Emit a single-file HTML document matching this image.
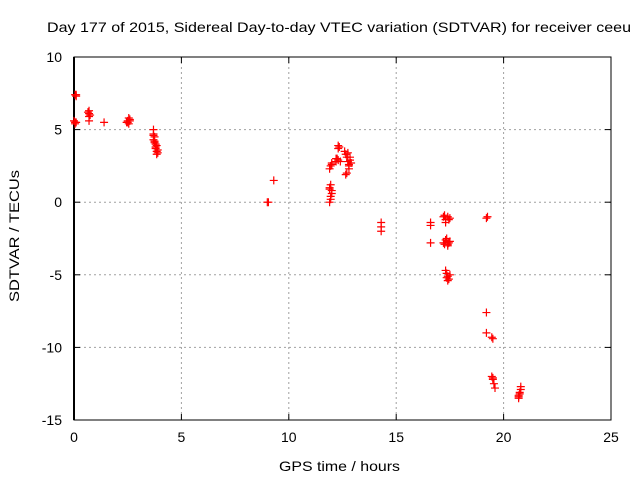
<!DOCTYPE html>
<html><head><meta charset="utf-8"><style>
body{margin:0;background:#fff}
svg text{font-family:"Liberation Sans",sans-serif;font-size:14px;fill:#000}
</style></head><body>
<svg id="chart" width="640" height="480">
<text x="47" y="32" textLength="584" lengthAdjust="spacingAndGlyphs">Day 177 of 2015, Sidereal Day-to-day VTEC variation (SDTVAR) for receiver ceeu</text>
<g id="grid"></g>
<g id="axes"></g>
<g id="pts"></g>
<text x="279" y="471" textLength="121" lengthAdjust="spacingAndGlyphs">GPS time / hours</text>
<text transform="translate(19,302) rotate(-90)" textLength="132" lengthAdjust="spacingAndGlyphs">SDTVAR / TECUs</text>
</svg>
<script>
const xTicks=[0,5,10,15,20,25];
const yTicks=[10,5,0,-5,-10,-15];
const hours=[0.05,0.1,0.05,0.1,0.05,0.0,0.1,0.7,0.7,0.7,0.7,0.65,0.75,1.4,2.5,2.55,2.6,2.5,2.6,2.45,2.55,3.7,3.7,3.75,3.7,3.75,3.8,3.8,3.85,3.9,3.85,3.9,3.75,3.8,3.7,3.85,9.0,9.05,9.3,11.9,11.95,12.0,11.9,11.95,12.0,11.9,11.95,12.0,11.95,11.9,12.0,12.2,12.25,12.3,12.35,12.3,12.4,12.2,12.3,12.6,12.65,12.7,12.75,12.8,12.85,12.8,12.7,12.65,12.75,12.85,12.8,12.9,14.3,14.3,14.3,16.6,16.6,16.6,17.2,17.3,17.4,17.5,17.3,17.25,17.45,17.2,17.3,17.4,17.5,17.4,17.35,17.25,17.45,17.3,17.35,17.4,17.45,17.5,17.4,17.35,19.2,19.25,19.2,19.2,19.45,19.5,19.45,19.5,19.55,19.6,19.5,20.7,20.75,20.8,20.7,20.8,20.75,20.7];
const values=[7.4,7.3,5.5,5.5,5.4,5.6,7.4,6.3,6.1,5.9,5.6,6.2,6.0,5.5,5.6,5.4,5.7,5.5,5.6,5.5,5.8,5.0,4.7,4.5,4.3,4.1,4.0,3.8,3.9,3.6,3.5,3.4,4.2,3.7,4.6,3.3,0.0,0.0,1.5,2.3,2.5,2.7,0.0,0.4,0.8,1.0,1.2,0.6,0.2,0.9,2.6,2.8,3.0,2.9,3.8,3.9,2.8,3.0,3.7,3.5,3.3,3.1,2.8,2.6,2.9,2.3,2.0,1.9,3.4,3.1,2.5,2.7,-1.4,-1.7,-2.0,-1.4,-1.6,-2.8,-1.0,-1.2,-1.0,-1.1,-1.4,-0.9,-1.2,-2.8,-2.6,-2.9,-2.7,-3.0,-2.5,-2.9,-2.8,-4.7,-4.9,-5.1,-5.3,-5.0,-5.4,-5.2,-1.1,-1.0,-7.6,-9.0,-9.3,-9.4,-12.0,-12.2,-12.5,-12.8,-12.1,-13.3,-13.1,-12.9,-13.5,-12.7,-13.2,-13.4];
const X0=74,X1=611,Y0=57,Y1=420;
const xs=v=>X0+(v-0)/25*(X1-X0);
const ys=v=>Y0+(10-v)/25*(Y1-Y0);
const NS="http://www.w3.org/2000/svg";
function mk(t,a,p){const e=document.createElementNS(NS,t);for(const k in a)e.setAttribute(k,a[k]);p.appendChild(e);return e;}
const grid=document.getElementById('grid'),axes=document.getElementById('axes'),pts=document.getElementById('pts');
xTicks.forEach(t=>{const x=xs(t);
 if(t>0&&t<25){const l=mk('line',{x1:x,x2:x,y1:Y0,y2:Y1,stroke:'#a0a0a0','stroke-dasharray':'2,3'},grid);}
 mk('line',{x1:x,x2:x,y1:Y1,y2:Y1-6,stroke:'#000'},axes);mk('line',{x1:x,x2:x,y1:Y0,y2:Y0+6,stroke:'#000'},axes);
 const tx=mk('text',{x:x,y:Y1+22,'text-anchor':'middle'},axes);tx.textContent=t;
 });
yTicks.forEach(t=>{const y=ys(t);
 if(t<10&&t>-15){const l=mk('line',{x1:X0,x2:X1,y1:y,y2:y,stroke:'#a0a0a0','stroke-dasharray':'2,3'},grid);}
 mk('line',{x1:X0,x2:X0+6,y1:y,y2:y,stroke:'#000'},axes);mk('line',{x1:X1,x2:X1-6,y1:y,y2:y,stroke:'#000'},axes);
 const tx=mk('text',{x:X0-12,y:y+5,'text-anchor':'end'},axes);tx.textContent=t;
 });
mk('rect',{x:X0,y:Y0,width:X1-X0,height:Y1-Y0,fill:'none',stroke:'#000'},axes);
mk('line',{x1:X0,x2:X0,y1:Y0,y2:Y1,stroke:'#000','stroke-width':2},axes);
hours.forEach((h,i)=>{const x=xs(h),y=ys(values[i]);
 const p=mk('path',{d:`M${x-4},${y}h8M${x},${y-4}v8`,stroke:'#f00','stroke-width':1.2},pts);
 });
</script>
</body></html>
